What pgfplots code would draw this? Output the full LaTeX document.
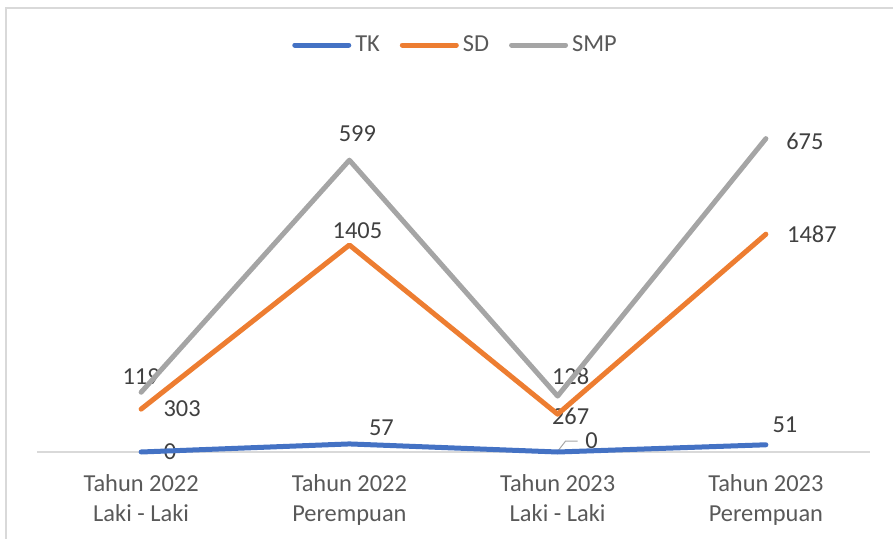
\documentclass[border=0pt]{standalone}
\usepackage{pgfplots}
\pgfplotsset{compat=1.18}
\usepackage{fontspec}
\setmainfont{Carlito}
\definecolor{cTK}{HTML}{4472C4}
\definecolor{cSD}{HTML}{ED7D31}
\definecolor{cSMP}{HTML}{A5A5A5}
\definecolor{txt}{HTML}{595959}
\definecolor{lbl}{HTML}{404040}
\definecolor{axl}{HTML}{D9D9D9}
\tikzset{dl/.style={text=lbl, font=\fontsize{12.2}{14}\selectfont, inner sep=0pt}}
\begin{document}
\begin{tikzpicture}
\useasboundingbox (0,0) rectangle (446.5pt,-269.5pt);
\draw[axl, line width=0.8pt] (3pt,-275pt) -- (3pt,-4pt) -- (450pt,-4pt);
\begin{axis}[
  at={(18.5pt,-226pt)}, anchor=south west,
  scale only axis, width=416.5pt, height=177pt,
  xmin=-0.5, xmax=3.5, ymin=0, ymax=2500,
  axis y line=none, axis x line*=bottom,
  x axis line style={axl, line width=0.75pt, -},
  xtick={0,1,2,3},
  xticklabels={{Tahun 2022\\Laki - Laki},{Tahun 2022\\Perempuan},{Tahun 2023\\Laki - Laki},{Tahun 2023\\Perempuan}},
  xticklabel style={align=center, text=txt, font=\fontsize{12.2}{15}\selectfont, yshift=-7.5pt},
  major tick length=0pt,
  stack plots=y,
  legend columns=3,
  legend style={draw=none, fill=none, at={(0.5036,1.1497)}, anchor=center, font=\fontsize{12.2}{14}\selectfont, text=txt, /tikz/every even column/.append style={column sep=8pt}},
  legend image code/.code={\draw[#1, line cap=round] (0pt,0pt) -- (27pt,0pt);},
  clip=false,
]
\addplot[cTK, line width=2.5pt, line join=round, line cap=round, mark=none] coordinates {(0,0) (1,57) (2,0) (3,51)};
\addlegendentry{TK}
\addplot[cSD, line width=2.5pt, line join=round, line cap=round, mark=none] coordinates {(0,303) (1,1405) (2,267) (3,1487)};
\addlegendentry{SD}
\addplot[cSMP, line width=2.5pt, line join=round, line cap=round, mark=none] coordinates {(0,119) (1,599) (2,128) (3,675)};
\addlegendentry{SMP}
\node[dl, xshift=14.5pt] at (axis cs:0,0) {0};
\node[dl, xshift=16pt, yshift=8pt] at (axis cs:1,57) {57};
\node[dl, xshift=17pt, yshift=5.5pt] at (axis cs:2,0) {0};
\node[dl, xshift=9.5pt, yshift=10pt] at (axis cs:3,51) {51};
\node[dl, xshift=20.5pt] at (axis cs:0,303) {303};
\node[dl, xshift=4pt, yshift=7pt] at (axis cs:1,1462) {1405};
\node[dl, xshift=6.5pt, yshift=-1pt] at (axis cs:2,267) {267};
\node[dl, xshift=23pt] at (axis cs:3,1538) {1487};
\node[dl, yshift=8pt] at (axis cs:0,422) {119};
\node[dl, xshift=4pt, yshift=13pt] at (axis cs:1,2061) {599};
\node[dl, xshift=6.5pt, yshift=10pt] at (axis cs:2,395) {128};
\node[dl, xshift=19.5pt, yshift=-1.5pt] at (axis cs:3,2213) {675};
\draw[cSMP, line width=0.5pt] (axis cs:2,0) ++(0.5pt,1pt) -- ++(3.5pt,4.5pt) -- ++(6pt,0pt);
\end{axis}
\end{tikzpicture}
\end{document}
